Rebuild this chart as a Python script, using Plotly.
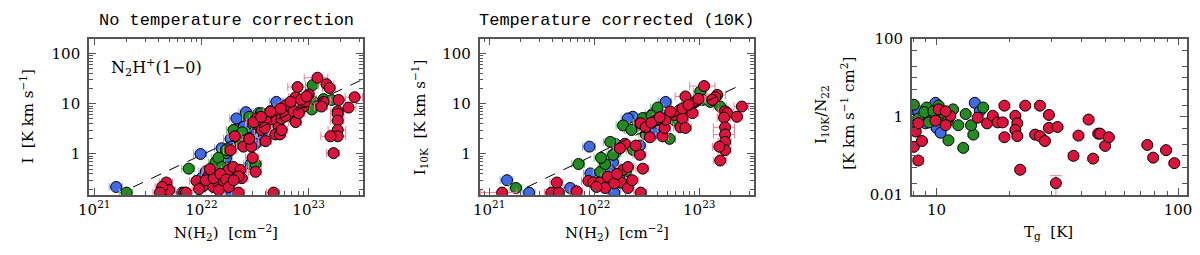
import numpy as np
import plotly.graph_objects as go

# ---------------- data (N in units of 1e22 cm^-2) ----------------
# Panel 1: no temperature correction
p1_blue_N22 = [0.16, 0.98, 1.0, 0.66, 1.68, 1.7, 2.6, 5.0, 2.22, 2.47, 2.64, 2.87, 3.8, 2.87, 1.87, 2.12, 3.41, 4.23, 1.29, 1.54, 3.2, 1.9,
               1.1, 1.4, 1.6, 2.9, 3.3, 2.5]
p1_blue_I = [0.22, 1.0, 0.33, 0.17, 0.63, 0.84, 6.8, 10.9, 3.4, 4.3, 3.0, 2.8, 2.25, 0.63, 2.0, 5.1, 6.5, 5.1, 0.44, 1.3, 1.6, 0.17,
             0.45, 0.28, 0.36, 4.5, 5.5, 3.5]

p1_green_N22 = [0.20, 0.76, 1.21, 1.35, 1.7, 4.41, 11.1, 13.8, 16.4, 10.9, 10.7, 4.23, 2.75, 1.99, 2.12, 1.7, 1.79, 3.2, 3.41, 5.25, 6.5, 8.1, 1.44, 2.31, 1.04, 4.71, 7.24,
                1.3, 1.9, 1.55, 2.8, 3.6, 3.0, 2.4, 5.8, 7.5, 9.5]
p1_green_I = [0.17, 0.51, 0.41, 0.68, 1.04, 7.1, 10.9, 12.4, 11.9, 23.5, 7.7, 6.3, 2.1, 3.0, 2.25, 1.19, 0.23, 0.63, 3.7, 6.5, 10.0, 7.7, 0.84, 1.6, 0.29, 4.6, 5.1,
              0.25, 0.5, 0.55, 5.5, 6.5, 4.0, 2.7, 8.0, 9.5, 12.0]

p1_red_N22 = [0.47, 0.50, 0.43, 0.69, 0.90, 1.04, 1.16, 1.29, 1.44, 1.61, 1.79, 1.99, 2.31, 2.38, 2.22,
              1.87, 2.05, 2.47, 2.93, 3.0, 3.2, 3.97, 3.27, 3.41, 3.64, 3.06, 4.05, 4.9, 5.02, 5.25,
              4.9, 5.4, 5.6, 5.6, 6.1, 6.1, 7.24, 7.57, 7.57, 7.89, 8.98, 10.0, 12.1, 14.7, 15.7,
              19.1, 23.6, 26.9, 18.7, 18.7, 18.7, 18.7, 18.7, 16.0, 17.1, 4.71, 2.22, 0.41, 0.72, 13.8,
              9.2, 8.1, 13.2, 1.1, 1.3, 1.5, 1.7, 1.2, 0.95, 1.45, 1.8, 2.0, 3.6, 4.4, 3.9, 2.8,
              6.8, 8.5, 9.6, 5.5]
p1_red_I = [0.27, 0.19, 0.22, 0.17, 0.29, 0.23, 0.36, 0.22, 0.27, 0.29, 0.48, 0.55, 0.48, 0.33, 0.36,
            1.19, 2.25, 1.4, 1.4, 0.84, 0.44, 1.8, 5.1, 3.7, 3.0, 4.3, 4.4, 6.5, 4.6, 3.4,
            2.45, 2.45, 3.0, 5.1, 5.7, 9.2, 7.1, 4.3, 13.5, 21.5, 8.8, 15.3, 33.0, 24.5, 20.6,
            11.9, 8.4, 13.5, 7.1, 6.3, 4.6, 3.0, 2.25, 2.25, 1.04, 0.17, 0.17, 0.17, 0.17, 10.9,
            10.9, 6.5, 8.8, 0.3, 0.33, 0.4, 0.31, 0.5, 0.2, 0.19, 0.22, 0.3, 5.5, 7.0, 3.3, 2.0,
            11.0, 12.0, 14.0, 8.0]
# larger horizontal errors (index -> error in 1e22)
p1_red_big_ex = {42: 3.0, 43: 2.5, 39: 1.5, 47: 5.0, 46: 4.0, 51: 3.5, 52: 3.5, 53: 3.0, 45: 3.0}

# Panel 2: temperature corrected (10 K)
p2_blue_N22 = [0.148, 0.24, 0.59, 0.90, 0.92, 1.51, 1.58, 1.58, 2.33, 2.09, 3.03, 4.78, 3.6, 4.19, 3.76, 2.72, 1.55, 1.1, 1.4,
               1.25, 1.75, 2.6, 3.2]
p2_blue_I = [0.30, 0.17, 0.21, 1.4, 0.41, 0.68, 1.04, 1.6, 5.5, 5.1, 5.1, 10.9, 6.3, 6.3, 2.6, 1.47, 0.17, 0.27, 0.48,
             0.3, 0.36, 3.8, 4.4]

p2_green_N22 = [0.18, 0.71, 1.14, 1.27, 1.42, 1.51, 1.88, 2.72, 4.01, 10.2, 10.7, 12.7, 5.21, 1.61, 1.76, 2.26, 3.09, 5.9, 8.2, 15.8, 1.16, 2.35,
                1.35, 2.0, 2.9, 3.5, 6.5, 9.0]
p2_green_I = [0.21, 0.63, 0.44, 0.63, 1.74, 0.96, 3.7, 4.1, 8.4, 17.5, 11.9, 10.9, 2.0, 0.29, 0.27, 3.0, 2.45, 4.6, 7.1, 8.8, 0.84, 1.2,
              0.24, 0.45, 5.2, 5.8, 7.5, 11.0]

p2_red_N22 = [0.133, 0.39, 0.46, 0.44, 0.68, 0.88, 0.98, 1.14, 1.27, 1.8, 2.09, 2.77, 1.96, 1.76, 1.88,
              2.09, 2.72, 2.9, 2.49, 2.77, 3.09, 3.38, 3.84, 4.47, 4.67, 4.78, 5.81, 6.62, 6.91, 7.38,
              6.91, 7.38, 8.59, 9.17, 11.1, 14.8, 14.2, 13.3, 17.6, 18.4, 17.2, 22.8, 25.4, 17.6, 17.6,
              17.6, 17.6, 15.5, 15.8, 1.05, 1.35, 1.55, 1.65, 2.3, 3.5, 4.2, 5.3, 7.9, 9.8]
p2_red_I = [0.17, 0.17, 0.17, 0.27, 0.18, 0.29, 0.27, 0.27, 0.21, 0.27, 0.21, 0.17, 1.6, 1.3, 0.48,
            0.55, 0.96, 0.51, 1.47, 4.1, 3.4, 2.15, 4.6, 2.25, 3.3, 4.8, 6.0, 3.4, 5.1, 3.3,
            8.1, 14.0, 6.5, 10.9, 22.5, 15.0, 13.5, 12.0, 7.1, 6.5, 5.3, 5.5, 8.8, 3.4, 2.45,
            1.74, 1.19, 1.4, 0.74, 0.22, 0.35, 0.26, 0.4, 0.3, 4.2, 5.4, 7.0, 9.5, 12.5]
p2_red_big_ex = {0: 0.05, 34: 3.0, 30: 1.5, 31: 1.5, 42: 4.0, 43: 4.0, 44: 4.0, 35: 3.0}

# Panel 3: I10K / N22 versus gas temperature
p3_blue_T = [9.9, 8.05, 14.4, 10.0, 10.4, 8.4, 9.3, 15.1, 9.0]
p3_blue_R = [2.28, 1.55, 2.28, 0.52, 0.39, 1.39, 1.18, 1.39, 0.68]

p3_green_T = [8.05, 9.1, 9.45, 10.4, 11.2, 13.2, 15.6, 14.2, 12.9, 11.2, 13.9, 12.3, 8.4, 8.9, 9.7, 10.7, 11.7, 8.2, 9.3, 11.0, 10.2]
p3_green_R = [2.04, 1.73, 1.06, 1.06, 0.90, 1.18, 1.73, 0.35, 0.16, 0.25, 0.61, 0.61, 0.90, 1.32, 1.39, 1.25, 1.55, 0.61, 0.72, 0.72, 1.93]

p3_red_T = [11.4, 14.8, 16.2, 17.1, 17.9, 18.8, 19.1, 19.1, 21.2, 21.6, 21.2, 21.6, 23.3, 26.8, 25.6,
            26.8, 28.1, 29.2, 29.2, 22.2, 8.4, 8.05, 8.7, 8.2, 8.4, 9.9, 10.9, 10.2, 10.9, 31.7,
            31.2, 36.9, 38.7, 42.6, 44.5, 46.7, 47.6, 49.9, 51.7, 74.6, 78.9, 89.2, 96.5]
p3_red_R = [1.06, 0.95, 0.68, 1.06, 0.72, 0.72, 1.93, 0.30, 1.06, 0.68, 0.46, 0.32, 1.93, 1.93, 0.35,
            0.32, 0.24, 1.12, 0.52, 0.044, 0.076, 0.17, 0.24, 0.42, 0.68, 0.80, 0.61, 1.55, 1.39, 0.55,
            0.020, 0.10, 0.33, 0.85, 0.085, 0.37, 0.37, 0.18, 0.30, 0.19, 0.09, 0.14, 0.065]
p3_red_big_ey = {30: 0.011, 31: 0.02, 20: 0.015, 13: 0.3}

# power-law relation I = N / N0
fit_N0 = 1.05e22
fit_range_p1 = [2.3e21, 3.4e23]
fit_range_p2 = [2.3e21, 2.45e23]

x_ticks_N = [1e21, 1e22, 1e23]
x_ticktext_N = ["10<sup>21</sup>", "10<sup>22</sup>", "10<sup>23</sup>"]
y_ticks_I = [1, 10, 100]
y_ticktext_I = ["1", "10", "100"]
y_ticks_R = [0.01, 1, 100]
y_ticktext_R = ["0.01", "1", "100"]
x_ticks_T = [10, 100]
x_ticktext_T = ["10", "100"]

# ---------------- style ----------------
W, H = 1200, 255
BLUE, GREEN, RED = "#4169E1", "#228B22", "#DC143C"
ERRC = {BLUE: "#8EA9F2", GREEN: "#74C874", RED: "#F27C96"}
AXC = "#555555"
SERIF = "DejaVu Serif"

fig = go.Figure()


def scat(x, y, color, xa, ya, ex=None, ey=None, capw=4):
    kw = {}
    if ex is not None:
        kw["error_x"] = dict(type="data", array=ex, color=ERRC[color], thickness=1, width=capw)
    if ey is not None:
        kw["error_y"] = dict(type="data", array=ey, color=ERRC[color], thickness=1, width=capw)
    fig.add_trace(go.Scatter(
        x=x, y=y, mode="markers", xaxis=xa, yaxis=ya, showlegend=False,
        marker=dict(size=11, color=color, line=dict(color="black", width=1)), **kw))


def xerr(n22, big=None):
    e = [0.14 * v * 1e22 for v in n22]
    if big:
        for i, v in big.items():
            e[i] = v * 1e22
    return e


# panel 1
for N, I, c, big in [(p1_blue_N22, p1_blue_I, BLUE, None),
                     (p1_green_N22, p1_green_I, GREEN, None),
                     (p1_red_N22, p1_red_I, RED, p1_red_big_ex)]:
    scat([v * 1e22 for v in N], I, c, "x", "y", ex=xerr(N, big))
xs = np.logspace(np.log10(fit_range_p1[0]), np.log10(fit_range_p1[1]), 50)
fig.add_trace(go.Scatter(x=xs, y=xs / fit_N0, mode="lines", xaxis="x", yaxis="y", showlegend=False,
                         line=dict(color="black", width=1, dash="11px,9px")))

# panel 2
for N, I, c, big in [(p2_blue_N22, p2_blue_I, BLUE, None),
                     (p2_green_N22, p2_green_I, GREEN, None),
                     (p2_red_N22, p2_red_I, RED, p2_red_big_ex)]:
    scat([v * 1e22 for v in N], I, c, "x2", "y2", ex=xerr(N, big))
xs = np.logspace(np.log10(fit_range_p2[0]), np.log10(fit_range_p2[1]), 50)
fig.add_trace(go.Scatter(x=xs, y=xs / fit_N0, mode="lines", xaxis="x2", yaxis="y2", showlegend=False,
                         line=dict(color="black", width=1, dash="11px,9px")))

# panel 3
for T, R, c, big in [(p3_blue_T, p3_blue_R, BLUE, None),
                     (p3_green_T, p3_green_R, GREEN, None),
                     (p3_red_T, p3_red_R, RED, p3_red_big_ey)]:
    ey = [0.1 * v for v in R]
    if big:
        for i, v in big.items():
            ey[i] = v
    scat(T, R, c, "x3", "y3", ey=ey, capw=6)

# ---------------- axes ----------------
dom_x = [[79, 357], [475, 753], [913, 1192]]
top, bot = 32, 200
ydom = [1 - bot / H, 1 - top / H]


def minor_vals(e0, e1):
    return [m * 10.0 ** e for e in range(e0, e1) for m in range(2, 10)]


common = dict(type="log", showline=True, linecolor=AXC, linewidth=1.5, mirror="allticks",
              ticks="inside", ticklen=7, tickwidth=1, tickcolor=AXC, showgrid=False, zeroline=False,
              tickfont=dict(family=SERIF, size=15, color="black"), tickmode="array")
minor_common = dict(ticks="inside", ticklen=4, tickwidth=1, tickcolor=AXC, showgrid=False)

fig.update_layout(
    xaxis=dict(common, domain=[dom_x[0][0] / W, dom_x[0][1] / W], range=[20.95, 23.51], anchor="y",
               tickvals=x_ticks_N, ticktext=x_ticktext_N,
               minor=dict(minor_common, tickvals=minor_vals(20, 24))),
    yaxis=dict(common, domain=ydom, range=[-0.815, 2.295], anchor="x",
               tickvals=y_ticks_I, ticktext=y_ticktext_I, ticklabelstandoff=4,
               minor=dict(minor_common, tickvals=minor_vals(-1, 3))),
    xaxis2=dict(common, domain=[dom_x[1][0] / W, dom_x[1][1] / W], range=[20.91, 23.52], anchor="y2",
                tickvals=x_ticks_N, ticktext=x_ticktext_N,
                minor=dict(minor_common, tickvals=minor_vals(20, 24))),
    yaxis2=dict(common, domain=ydom, range=[-0.815, 2.295], anchor="x2",
                tickvals=y_ticks_I, ticktext=y_ticktext_I, ticklabelstandoff=4,
                minor=dict(minor_common, tickvals=minor_vals(-1, 3))),
    xaxis3=dict(common, domain=[dom_x[2][0] / W, dom_x[2][1] / W], range=[np.log10(7.9), np.log10(109)],
                anchor="y3", tickvals=x_ticks_T, ticktext=x_ticktext_T,
                minor=dict(minor_common, tickvals=minor_vals(0, 3))),
    yaxis3=dict(common, domain=ydom, range=[-2, 2], anchor="x3",
                tickvals=y_ticks_R, ticktext=y_ticktext_R, ticklabelstandoff=4,
                minor=dict(minor_common, ticklen=5,
                           tickvals=[m * 10.0 ** e for e in range(-2, 2) for m in (2, 5, 10)])),
)

# ---------------- texts ----------------
def ann(text, xp, yp, size=15, family=SERIF, angle=0, xanchor="center"):
    fig.add_annotation(text=text, x=xp / W, y=1 - yp / H, xref="paper", yref="paper",
                       showarrow=False, textangle=angle, xanchor=xanchor, yanchor="middle",
                       font=dict(family=family, size=size, color="black"))


ann("No temperature correction", 218, 12, size=17, family="Liberation Mono")
ann("Temperature corrected (10K)", 614, 12, size=17, family="Liberation Mono")
ann("N(H<sub>2</sub>)  [cm<sup>−2</sup>]", 218, 240, size=15)
ann("N(H<sub>2</sub>)  [cm<sup>−2</sup>]", 614, 240, size=15)
ann("T<sub>g</sub>  [K]", 1052, 240, size=15)
ann("I  [K km s<sup>−1</sup>]", 16, 116, size=15, angle=-90)
ann("I<sub>10K</sub>  [K km s<sup>−1</sup>]", 414, 116, size=15, angle=-90)
ann("I<sub>10K</sub>/N<sub>22</sub>", 822, 114, size=15, angle=-90)
ann("[K km s<sup>−1</sup> cm<sup>2</sup>]", 848, 112, size=15, angle=-90)
ann("N<sub>2</sub>H<sup>+</sup>(1−0)", 99, 63, size=16, xanchor="left")

fig.update_layout(width=W, height=H, margin=dict(l=0, r=0, t=0, b=0),
                  paper_bgcolor="white", plot_bgcolor="white")

fig.write_html("out.html", config={"displayModeBar": False},
               post_script="document.body.style.margin='0';document.body.style.overflow='hidden';")
